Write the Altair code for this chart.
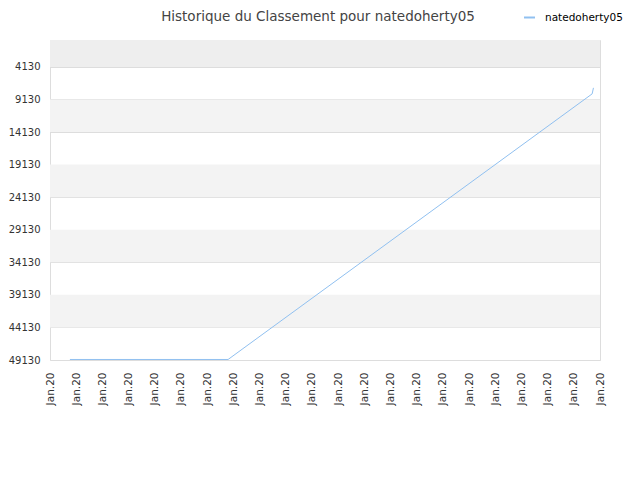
import altair as alt
import pandas as pd

# data
x_pos = [0.76, 6.8, 20.7, 20.75]
ranks = [49050, 49050, 8270, 7350]
series = ["natedoherty05"] * 4

tick_vals = [4130, 9130, 14130, 19130, 24130, 29130, 34130, 39130, 44130, 49130]
x_ticks = list(range(22))
x_label = "Jan.20"
title_text = ["Historique du Classement pour natedoherty05"]

band_top_start = [0]
band_top_end = [4130]
band_start = [9130, 19130, 29130, 39130]
band_end = [14130, 24130, 34130, 44130]

W, H = 550, 320
FONT = "DejaVu Sans"

df = pd.DataFrame({"x": x_pos, "rank": ranks, "s": series})
top_df = pd.DataFrame({"a": band_top_start, "b": band_top_end})
band_df = pd.DataFrame({"a": band_start, "b": band_end})
title_df = pd.DataFrame({"t": title_text})

yscale = alt.Scale(domain=[0, 49130], reverse=True, nice=False, zero=False)
xscale = alt.Scale(domain=[0, 21], nice=False, zero=False)

yaxis = alt.Axis(values=tick_vals, format="d", grid=True, gridColor="#dddddd", ticks=False,
                 domain=False, labelPadding=10, labelFont=FONT,
                 labelFontSize=10, labelColor="#333333")

top_band = alt.Chart(top_df).mark_rect(color="#eeeeee").encode(
    x=alt.value(0), x2=alt.value(W),
    y=alt.Y("a:Q", scale=yscale, axis=yaxis, title=None), y2="b:Q",
)
bands = alt.Chart(band_df).mark_rect(color="#f3f3f3").encode(
    x=alt.value(0), x2=alt.value(W),
    y=alt.Y("a:Q", scale=yscale, axis=yaxis, title=None), y2="b:Q",
)

line = alt.Chart(df).mark_line(strokeWidth=1).encode(
    x=alt.X("x:Q", scale=xscale, title=None,
            axis=alt.Axis(values=x_ticks, labelExpr=f"'{x_label}'", labelAngle=-90,
                          grid=False, ticks=False, domain=False, labelPadding=12,
                          labelFont=FONT, labelFontSize=10.5, labelColor="#333333")),
    y=alt.Y("rank:Q", scale=yscale, title=None, axis=yaxis),
    color=alt.Color("s:N", scale=alt.Scale(domain=["natedoherty05"], range=["#90c0f0"]),
                    legend=alt.Legend(title=None, orient="none", legendX=473, legendY=-29,
                                      symbolType="stroke", symbolStrokeWidth=2, symbolSize=120,
                                      labelOffset=9,
                                      labelFont=FONT, labelFontSize=10.5, labelColor="#000000")),
)

title = alt.Chart(title_df).mark_text(font=FONT, fontSize=13.5, color="#444444",
                                      align="center", baseline="middle").encode(
    text="t:N", x=alt.value(W / 2 - 7), y=alt.value(-23)
)

chart = alt.layer(top_band, bands, line, title).properties(
    width=W, height=H,
    autosize=alt.AutoSizeParams(type="none"),
    padding={"left": 42, "top": 32, "right": 32, "bottom": 100},
).configure_view(stroke="#dddddd", strokeWidth=1).configure(background="white")

chart.save("out.html", embed_options={"renderer": "svg", "actions": False})
